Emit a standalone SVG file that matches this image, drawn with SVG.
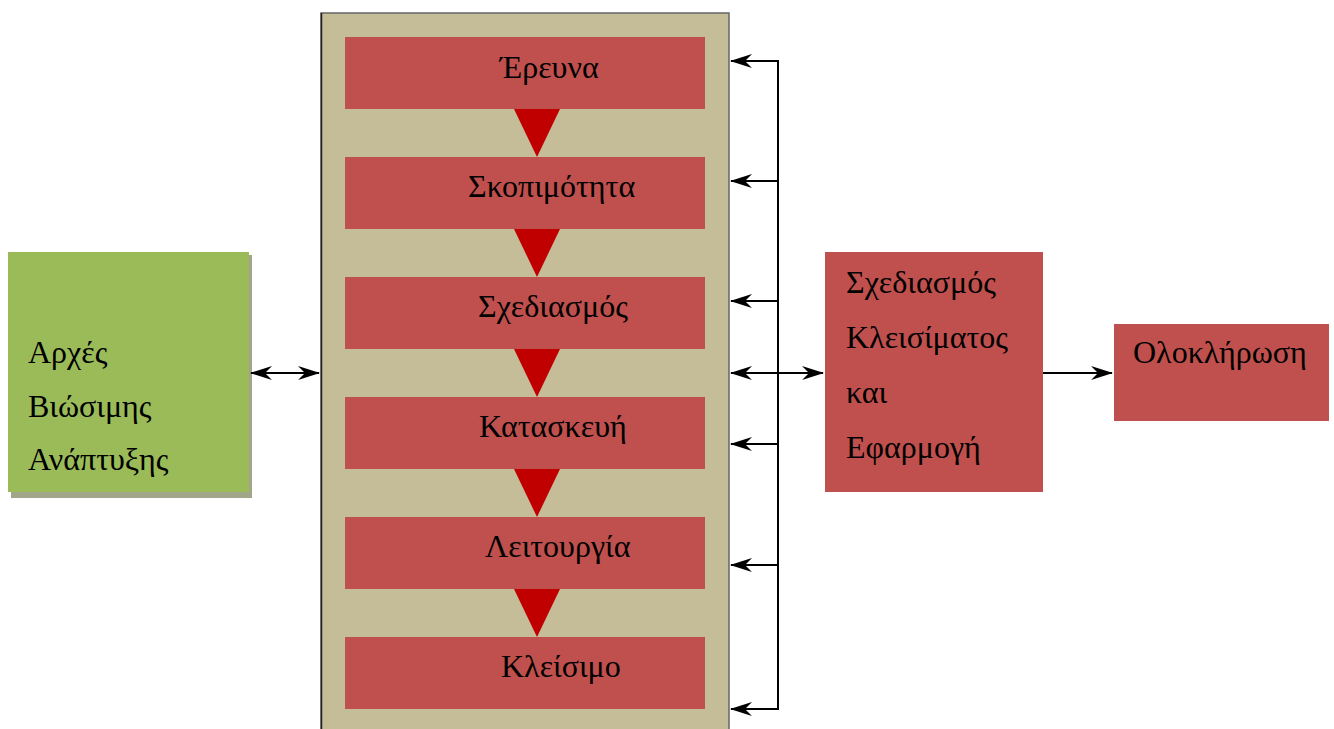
<svg xmlns="http://www.w3.org/2000/svg" width="1334" height="729" viewBox="0 0 1334 729">
<style>
.t{font-family:"Liberation Serif","Times New Roman",serif;font-size:32px;fill:#000}
.red{fill:#C0504D}
.tri{fill:#C00000}
.ln{stroke:#000;stroke-width:2;fill:none}
</style>
<defs>
<marker id="ah" viewBox="0 0 22 14" refX="21" refY="7" markerWidth="22" markerHeight="14" markerUnits="userSpaceOnUse" orient="auto-start-reverse">
<path d="M0,0 L22,7 L0,14 L7,7 Z" fill="#000"/>
</marker>
</defs>
<rect width="1334" height="729" fill="#fff"/>
<g id="panel">
<rect x="321" y="13" width="408" height="730" fill="#C4BD97" stroke="#666" stroke-width="1.5"/>
<line x1="321.5" y1="13" x2="321.5" y2="729" stroke="#222" stroke-width="1.5"/>
</g>
<g id="green">
<rect x="11" y="255" width="241" height="243" fill="#A2A688"/>
<rect x="8" y="252" width="241" height="240" fill="#9BBB59"/>
<text class="t" x="28" y="363">Αρχές</text>
<text class="t" x="28" y="417">Βιώσιμης</text>
<text class="t" x="28" y="470">Ανάπτυξης</text>
</g>
<g id="n1"><rect class="red" x="345" y="37" width="360" height="72"/><text class="t" x="500" y="78">Έρευνα</text></g>
<g id="n2"><rect class="red" x="345" y="157" width="360" height="72"/><text class="t" x="468" y="197">Σκοπιμότητα</text></g>
<g id="n3"><rect class="red" x="345" y="277" width="360" height="72"/><text class="t" x="478" y="317">Σχεδιασμός</text></g>
<g id="n4"><rect class="red" x="345" y="397" width="360" height="72"/><text class="t" x="479" y="437">Κατασκευή</text></g>
<g id="n5"><rect class="red" x="345" y="517" width="360" height="72"/><text class="t" x="485" y="557">Λειτουργία</text></g>
<g id="n6"><rect class="red" x="345" y="637" width="360" height="72"/><text class="t" x="501" y="677">Κλείσιμο</text></g>
<g id="flow">
<polygon class="tri" points="514,109 560,109 537,157"/>
<polygon class="tri" points="514,229 560,229 537,277"/>
<polygon class="tri" points="514,349 560,349 537,397"/>
<polygon class="tri" points="514,469 560,469 537,517"/>
<polygon class="tri" points="514,589 560,589 537,637"/>
</g>
<g id="closing"><rect class="red" x="825" y="252" width="218" height="240"/>
<text class="t" x="846" y="293">Σχεδιασμός</text>
<text class="t" x="846" y="348">Κλεισίματος</text>
<text class="t" x="846" y="403">και</text>
<text class="t" x="846" y="458">Εφαρμογή</text>
</g>
<g id="complete"><rect class="red" x="1114" y="324" width="215" height="97"/>
<text class="t" x="1133" y="363">Ολοκλήρωση</text></g>
<g id="connectors">
<line class="ln" x1="778" y1="60" x2="778" y2="710"/>
<line class="ln" x1="778" y1="61" x2="731" y2="61" marker-end="url(#ah)"/>
<line class="ln" x1="778" y1="181" x2="731" y2="181" marker-end="url(#ah)"/>
<line class="ln" x1="778" y1="301" x2="731" y2="301" marker-end="url(#ah)"/>
<line class="ln" x1="778" y1="444" x2="731" y2="444" marker-end="url(#ah)"/>
<line class="ln" x1="778" y1="565" x2="731" y2="565" marker-end="url(#ah)"/>
<line class="ln" x1="778" y1="709" x2="731" y2="709" marker-end="url(#ah)"/>
<line class="ln" x1="731" y1="373" x2="823" y2="373" marker-start="url(#ah)" marker-end="url(#ah)"/>
<line class="ln" x1="251" y1="373" x2="319" y2="373" marker-start="url(#ah)" marker-end="url(#ah)"/>
<line class="ln" x1="1043" y1="373" x2="1112" y2="373" marker-end="url(#ah)"/>
</g>
</svg>
